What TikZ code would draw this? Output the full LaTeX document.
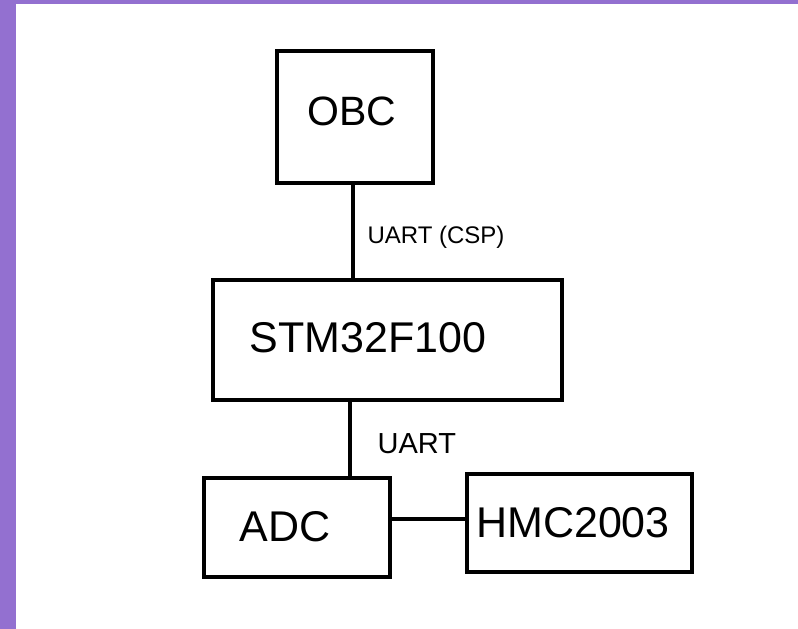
\documentclass[tikz,border=0pt]{standalone}
\usepackage{fontspec}
\setmainfont{Liberation Sans}
\usepackage{xcolor}
\usetikzlibrary{calc}
\definecolor{rand}{RGB}{147,112,208}

\tikzset{
    kotak/.style={draw, line width=3.5pt, rectangle, inner sep=0pt},
    tulisan/.style={inner sep=0pt, anchor=base},
    kabel/.style={line width=3.2pt}
}

\begin{document}
\begin{tikzpicture}[x=1pt, y=-1pt]
        %LATAR
        \useasboundingbox (0,0) rectangle (798,629);
        \fill[rand] (0,0) rectangle (798,629);
        \fill[white] (16,4) rectangle (798,629);

        %KOTAK
        \node[kotak, minimum width=156pt, minimum height=132pt] (obc) at (355,117) {};
        \node[kotak, minimum width=349pt, minimum height=120pt] (stm) at (387.5,340) {};
        \node[kotak, minimum width=186pt, minimum height=99pt] (adc) at (297,527.5) {};
        \node[kotak, minimum width=225pt, minimum height=98pt] (hmc) at (579.5,523) {};

        %TULISAN
        \node[tulisan, font=\fontsize{41}{41}\selectfont] (obct) at (352,125) {OBC};
        \node[tulisan, font=\fontsize{43}{43}\selectfont] (stmt) at (368,352) {STM32F100};
        \node[tulisan, font=\fontsize{43}{43}\selectfont] (adct) at (285,541) {ADC};
        \node[tulisan, font=\fontsize{43}{43}\selectfont] (hmct) at (573,537) {HMC2003};

        %KABEL
        \draw[kabel] ([xshift=-2pt]obc.south) -- ([xshift=-2pt]obc.south |- stm.north) node[tulisan, anchor=base west, pos=0.53, xshift=13pt, yshift=-9pt, font=\fontsize{24}{24}\selectfont] (uart1) {UART (CSP)};
        \draw[kabel] ([xshift=-37.5pt]stm.south) -- ([xshift=-37.5pt]stm.south |- adc.north) node[tulisan, anchor=base west, pos=0.5, xshift=26pt, yshift=-14pt, font=\fontsize{29}{29}\selectfont] (uart2) {UART};
        \draw[kabel] (adc.east |- 0,519) -- (hmc.west |- 0,519);
    \end{tikzpicture}
\end{document}
